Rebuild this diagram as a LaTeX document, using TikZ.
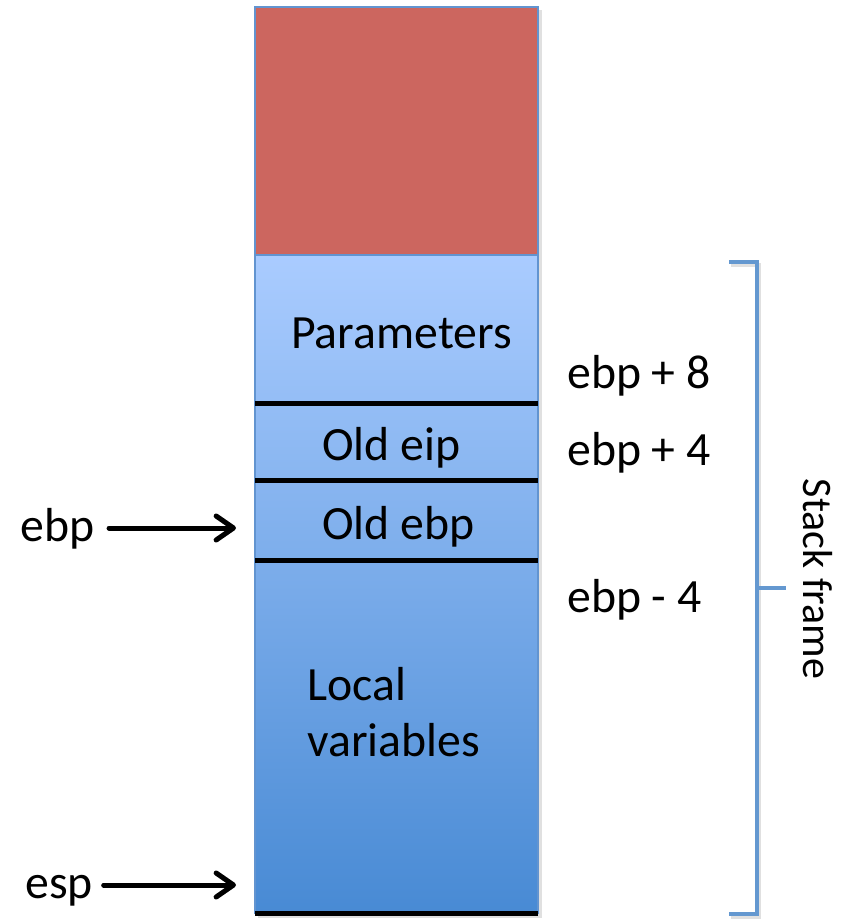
\documentclass[tikz,border=0pt]{standalone}
\usepackage{fontspec}
\setmainfont{Carlito}
\usetikzlibrary{arrows.meta}

\definecolor{slotred}{RGB}{204,102,95}
\definecolor{slottop}{RGB}{170,204,255}
\definecolor{slotbot}{RGB}{72,138,212}
\definecolor{slotedge}{RGB}{98,148,208}
\definecolor{bracecol}{RGB}{100,152,208}

\begin{document}
\begin{tikzpicture}[x=0.75pt,y=-0.75pt,
  lbl/.style={font=\fontsize{35.8pt}{42pt}\selectfont, inner sep=0pt, anchor=base west},
  divider/.style={line width=3.75pt, black},
  ptr/.style={line width=3.75pt, line cap=round,
    -{Straight Barb[length=13pt,width=18pt,line width=3.75pt,round]}},
  bracket/.style={line width=3.5pt, bracecol},
  shadowbox/.style={fill=black, opacity=0.12},
  shadowline/.style={black, opacity=0.12}]

\useasboundingbox (0,0) rectangle (854,922);

% soft shadow behind the stack column
\fill[shadowbox] (258,10) rectangle (542,918);

% caller's area above the frame
\fill[slotred] (255,7) rectangle (538,255);

% the current frame, one continuous gradient
\shade[top color=slottop, bottom color=slotbot] (255,255) rectangle (538,913);

% outline of the column
\draw[slotedge, line width=1.5pt] (255,7) rectangle (538,913);
\draw[slotedge, line width=1.5pt] (255,255) -- (538,255);

% slot dividers
\draw[divider] (255,403) -- (538,403);
\draw[divider] (255,480) -- (538,480);
\draw[divider] (255,560) -- (538,560);
\draw[divider] (255,913.5) -- (538,913.5);

% slot contents
\node[lbl] (params) at (291,348) {Parameters};
\node[lbl] (oldeip) at (322,460) {Old eip};
\node[lbl] (oldebp) at (322,539) {Old ebp};
\node[lbl] (local)  at (307,700) {Local};
\node[lbl] (vars)   at (307,756) {variables};

% offsets from the frame pointer
\node[lbl] (off8)  at (567,388) {ebp + 8};
\node[lbl] (off4)  at (567,465) {ebp + 4};
\node[lbl] (offm4) at (567,612) {ebp - 4};

% register pointers
\node[lbl] (regebp) at (20,541) {ebp};
\node[lbl] (regesp) at (25,898) {esp};
\coordinate (ebptip) at (236,528);
\coordinate (esptip) at (236,885);
\begin{scope}[shift={(2,3)}]
  \draw[ptr, shadowline, shorten <=11pt] (regebp.east |- ebptip) -- (ebptip);
  \draw[ptr, shadowline, shorten <=8pt] (regesp.east |- esptip) -- (esptip);
\end{scope}
\draw[ptr, shorten <=11pt] (regebp.east |- ebptip) -- (ebptip);
\draw[ptr, shorten <=8pt] (regesp.east |- esptip) -- (esptip);

% bracket spanning the stack frame
\coordinate (brtop) at (729,262);
\coordinate (brbot) at (729,914);
\coordinate (brmid) at (757,588);
\draw[bracket, shadowline] ([shift={(2,3)}]brtop) -- (759,265) -- (759,917) -- ([shift={(2,3)}]brbot);
\draw[bracket] (brtop) -- (757,262) -- (757,914) -- (brbot);
\draw[bracket] (brmid) -- (786,588);
\node[font=\fontsize{31.5pt}{38pt}\selectfont, inner sep=0pt, rotate=-90] (frame) at (818,579) {Stack frame};

\end{tikzpicture}
\end{document}
